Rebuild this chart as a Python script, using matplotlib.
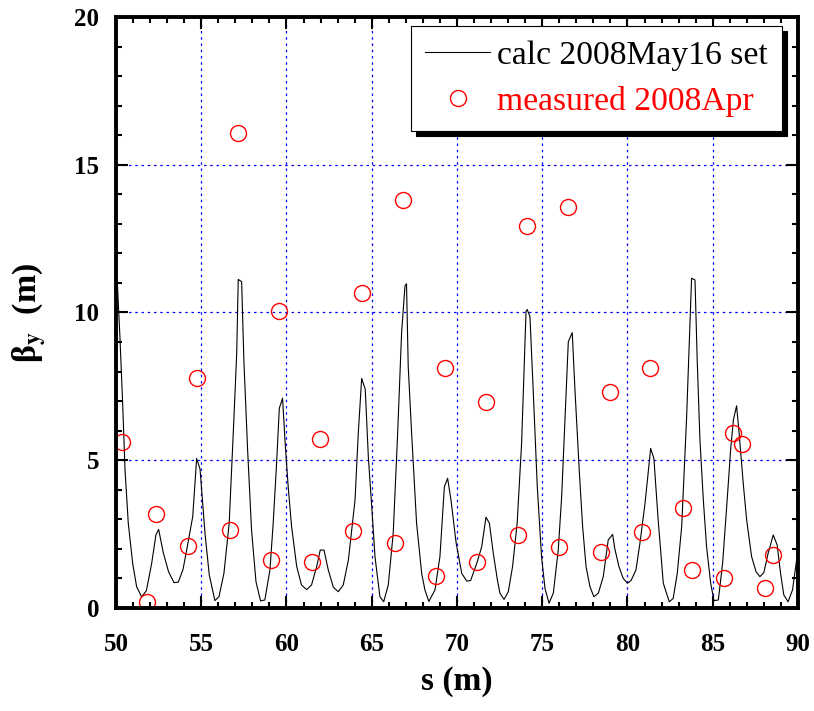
import matplotlib
matplotlib.use("Agg")
import matplotlib.pyplot as plt
from matplotlib.ticker import MultipleLocator

plt.rcParams['font.family'] = ['Liberation Serif', 'DejaVu Serif']
plt.rcParams['mathtext.fontset'] = 'stix'

# calculated beta_y along s (vertices)
calc_s = [50.0, 50.08, 50.23, 50.39, 50.53, 50.72, 50.98, 51.21, 51.5, 51.78,
          52.09, 52.34, 52.5, 52.77, 53.08, 53.4, 53.65, 53.93, 54.18, 54.5,
          54.73, 54.93, 55.22, 55.47, 55.8, 56.04, 56.33, 56.64, 56.92, 57.08,
          57.17, 57.37, 57.5, 57.72, 57.95, 58.21, 58.48, 58.73, 59.03, 59.22,
          59.42, 59.58, 59.77, 59.91, 60.1, 60.3, 60.6, 60.88, 61.18, 61.47,
          61.77, 61.98, 62.2, 62.45, 62.75, 63.04, 63.33, 63.63, 64.02, 64.21,
          64.41, 64.62, 64.8, 65.0, 65.19, 65.48, 65.7, 65.97, 66.26, 66.52,
          66.75, 66.95, 67.04, 67.14, 67.34, 67.63, 67.93, 68.12, 68.35, 68.71,
          69.0, 69.26, 69.45, 69.65, 69.95, 70.28, 70.57, 70.8, 71.16, 71.45,
          71.7, 71.9, 72.13, 72.37, 72.52, 72.76, 73.01, 73.26, 73.53, 73.79,
          74.05, 74.12, 74.28, 74.47, 74.71, 74.96, 75.16, 75.4, 75.65, 75.94,
          76.14, 76.33, 76.53, 76.76, 76.92, 77.18, 77.37, 77.57, 77.8, 78.03,
          78.29, 78.58, 78.87, 79.13, 79.26, 79.5, 79.75, 80.0, 80.21, 80.5,
          80.73, 81.03, 81.36, 81.55, 81.8, 82.1, 82.45, 82.68, 82.92, 83.18,
          83.47, 83.76, 83.96, 84.09, 84.25, 84.45, 84.64, 84.88, 85.07, 85.33,
          85.58, 85.82, 86.05, 86.21, 86.4, 86.55, 86.79, 86.99, 87.28, 87.54,
          87.77, 88.0, 88.25, 88.55, 88.78, 88.98, 89.17, 89.42, 89.68, 89.92,
          90.0]
calc_beta = [11.2, 10.99, 9.18, 6.93, 4.67, 2.87, 1.5, 0.72, 0.38, 0.58,
             1.5, 2.47, 2.66, 1.88, 1.23, 0.86, 0.87, 1.3, 2.07, 3.09,
             5.06, 4.7, 2.53, 1.12, 0.25, 0.38, 1.17, 2.87, 6.47, 8.62,
             11.12, 11.04, 8.39, 5.35, 2.64, 0.89, 0.24, 0.27, 1.29, 2.87,
             4.9, 6.76, 7.1, 5.69, 4.1, 2.75, 1.4, 0.78, 0.62, 0.78,
             1.4, 1.96, 1.96, 1.29, 0.7, 0.55, 0.78, 1.62, 3.65, 5.91,
             7.77, 7.4, 5.12, 3.43, 1.74, 0.38, 0.21, 0.78, 2.53, 5.91,
             9.3, 10.9, 10.97, 8.17, 5.91, 2.87, 1.17, 0.61, 0.22, 0.61,
             1.74, 4.1, 4.39, 3.65, 2.2, 1.17, 0.91, 0.93, 1.51, 2.07,
             3.07, 2.87, 1.85, 0.95, 0.5, 0.29, 0.55, 1.4, 2.87, 5.57,
             10.04, 10.1, 9.86, 7.38, 4.1, 1.74, 0.67, 0.16, 0.5, 1.96,
             3.77, 6.36, 9.01, 9.32, 7.38, 4.56, 2.75, 1.4, 0.72, 0.38,
             0.5, 1.06, 2.3, 2.49, 2.0, 1.4, 1.0, 0.84, 0.93, 1.29,
             2.19, 3.54, 5.4, 5.06, 2.98, 0.84, 0.21, 0.32, 1.17, 2.75,
             6.47, 11.16, 11.1, 8.39, 5.69, 3.65, 2.07, 0.84, 0.25, 0.27,
             1.51, 3.43, 5.35, 6.36, 6.84, 5.91, 4.22, 2.98, 1.74, 1.23,
             1.06, 1.2, 1.85, 2.47, 2.13, 1.17, 0.44, 0.21, 0.61, 1.62,
             1.9]

# measured beta_y, April 2008
meas_s = [50.37, 51.82, 52.33, 54.2, 54.75, 56.67, 57.16, 59.07, 59.58, 61.49,
          61.98, 63.92, 64.43, 66.34, 66.83, 68.75, 69.28, 71.16, 71.68, 73.56,
          74.08, 75.98, 76.5, 78.43, 78.95, 80.85, 81.34, 83.25, 83.8, 85.66,
          86.2, 86.69, 88.08, 88.55]
meas_beta = [5.61, 0.19, 3.19, 2.1, 7.78, 2.65, 16.07, 1.64, 10.05, 1.56,
             5.71, 2.6, 10.65, 2.19, 13.82, 1.09, 8.13, 1.56, 6.96, 2.48,
             12.94, 2.06, 13.58, 1.91, 7.3, 2.57, 8.11, 3.37, 1.29, 1.03,
             5.92, 5.56, 0.68, 1.78]

fig = plt.figure(figsize=(8.14, 7.11), dpi=100)
ax = fig.add_axes([0.1425, 0.1449, 0.8378, 0.8312])

ax.plot(calc_s, calc_beta, color='black', lw=0.8, label='calc 2008May16 set')
ax.plot(meas_s, meas_beta, ls='none', marker='o', ms=11.5, mfc='none',
        mec='red', mew=1.0, label='measured 2008Apr')

ax.set_xlim(50, 90)
ax.set_ylim(0, 20)
ax.xaxis.set_major_locator(MultipleLocator(5))
ax.xaxis.set_minor_locator(MultipleLocator(1))
ax.yaxis.set_major_locator(MultipleLocator(5))
ax.yaxis.set_minor_locator(MultipleLocator(1))
ax.tick_params(which='both', direction='in', top=True, right=True, width=1.5)
ax.tick_params(which='major', length=8.5)
ax.tick_params(which='minor', length=4.3)
ax.tick_params(axis='x', which='major', pad=18)
ax.tick_params(axis='y', which='major', pad=12)
for lbl in ax.get_xticklabels() + ax.get_yticklabels():
    lbl.set_fontsize(18)
    lbl.set_fontweight('bold')
for sp in ax.spines.values():
    sp.set_linewidth(2.8)

ax.grid(True, which='major', color='blue', ls=(0, (2, 3)), lw=0.9)
ax.set_axisbelow(True)

ax.set_xlabel('s (m)', fontsize=24, fontweight='bold', labelpad=7)
ax.set_ylabel(r'β$_{\mathbf{y}}$  (m)', fontsize=24.5, fontweight='bold', labelpad=19)

leg = ax.legend(loc='upper right', bbox_to_anchor=(0.9765, 0.9848),
                borderaxespad=0, fontsize=24.2, fancybox=False, framealpha=1,
                edgecolor='black', handlelength=1.95, handletextpad=0.2,
                labelspacing=0.45, borderpad=0.42,
                shadow={'ox': 3.5, 'oy': -3.5, 'color': 'black', 'alpha': 1})
leg.get_frame().set_linewidth(0.8)
leg.get_texts()[1].set_color('red')

fig.savefig('out.png', dpi=100)
